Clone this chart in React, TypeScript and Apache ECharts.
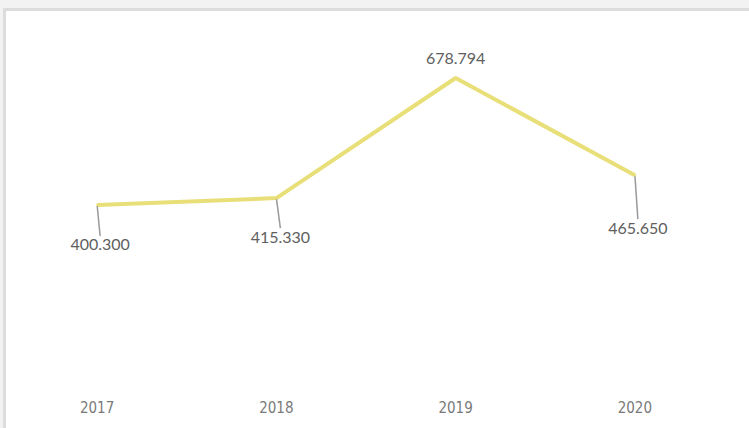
import React, { useEffect, useRef } from "react";
import * as echarts from "echarts";

const categories = ["2017", "2018", "2019", "2020"];
const values = [400.3, 415.33, 678.794, 465.65];
const labelSides = ["bottom", "bottom", "top", "bottom"];

// label offsets (styling only)
const labelShiftX = [3, 4, 0, 3];
const labelShiftY = [25, 24, -6, 38];

export default function App() {
  const ref = useRef<HTMLDivElement>(null);
  useEffect(() => {
    if (!ref.current) return;
    const chart = echarts.init(ref.current, null, { renderer: "svg" });
    chart.setOption({
      animation: false,
      grid: { left: 7.5, right: 24.5, top: 22.7, bottom: 40.5 },
      xAxis: {
        type: "category",
        data: categories,
        boundaryGap: true,
        axisLine: { show: false },
        axisTick: { show: false },
        splitLine: { show: false },
        axisLabel: {
          margin: 13,
          color: "#7a7a7a",
          fontSize: 15,
          fontFamily: "'Liberation Sans Narrow', 'DejaVu Sans Condensed', sans-serif",
        },
      },
      yAxis: {
        type: "value",
        min: 0,
        max: 800,
        show: false,
        splitLine: { show: false },
      },
      series: [
        {
          type: "line",
          data: values.map((v, i) => ({
            value: v,
            label: { position: labelSides[i] },
            labelLine: { show: labelSides[i] === "bottom" },
          })),
          symbol: "circle",
          symbolSize: 2,
          showSymbol: true,
          itemStyle: { color: "#E8DF78" },
          lineStyle: { color: "#E8DF78", width: 4 },
          label: {
            show: true,
            distance: 5,
            color: "#606060",
            fontSize: 16,
            fontFamily: "Lato, 'Open Sans', sans-serif",
            formatter: (p: any) => Number(p.value).toFixed(3),
          },
          labelLine: {
            show: true,
            lineStyle: { color: "#9a9a9a", width: 1.5 },
          },
          labelLayout: (p: any) => ({
            dx: labelShiftX[p.dataIndex],
            dy: labelShiftY[p.dataIndex],
          }),
        },
      ],
    });
    return () => chart.dispose();
  }, []);

  return (
    <div
      style={{
        position: "absolute",
        left: 0,
        top: 0,
        width: 749,
        height: 428,
        background: "#f2f2f2",
        overflow: "hidden",
      }}
    >
      <div
        style={{
          position: "absolute",
          left: 3,
          top: 8,
          width: 760,
          height: 440,
          boxSizing: "border-box",
          borderLeft: "3px solid #dcdcdc",
          borderTop: "3px solid #dcdcdc",
          background: "#ffffff",
        }}
      />
      <div
        ref={ref}
        style={{ position: "absolute", left: 0, top: 0, width: 749, height: 428 }}
      />
    </div>
  );
}
